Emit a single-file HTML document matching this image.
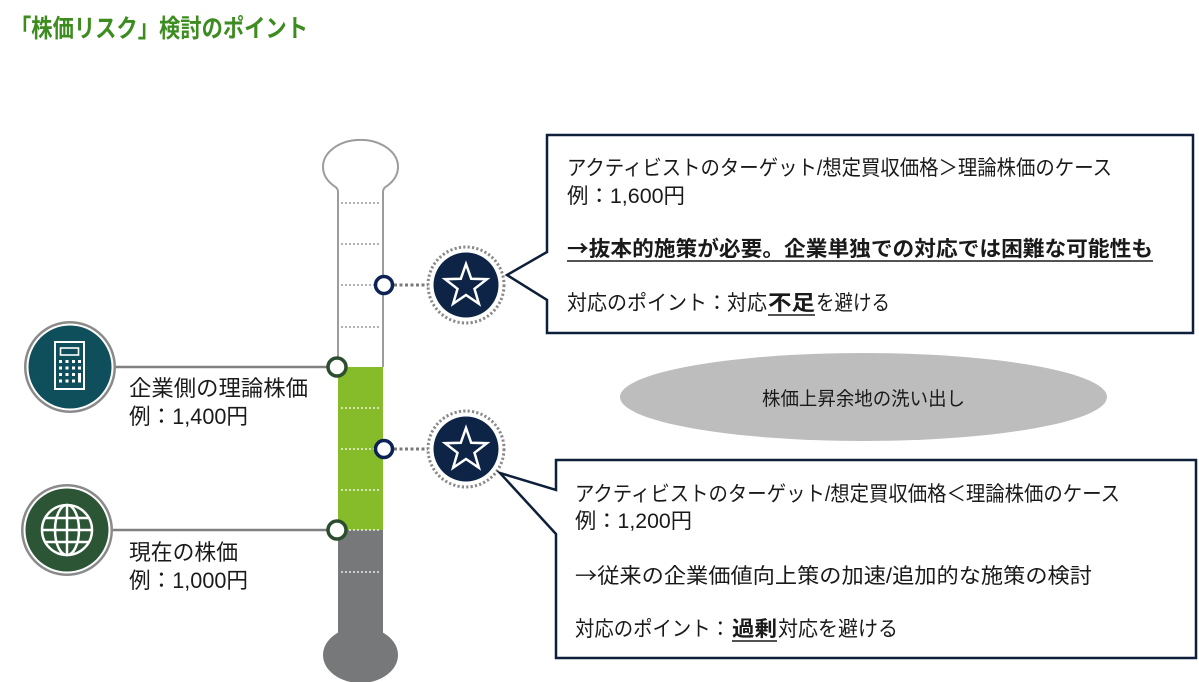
<!DOCTYPE html>
<html><head><meta charset="utf-8">
<style>
html,body{margin:0;padding:0;background:#fff;}
svg{display:block;}
text{font-family:"Liberation Sans","Noto Sans CJK JP",sans-serif;}
.cjk{font-family:"Noto Sans CJK JP",sans-serif;}
</style></head>
<body>
<svg width="1199" height="682" viewBox="0 0 1199 682" xmlns="http://www.w3.org/2000/svg">
<rect width="1199" height="682" fill="#fff"/>
<!-- title -->
<text x="10" y="37" font-size="25" font-weight="bold" fill="#3c8c20" textLength="298" lengthAdjust="spacingAndGlyphs">「株価リスク」検討のポイント</text>

<!-- thermometer -->
<rect x="338" y="367" width="45" height="163" fill="#86bc2a"/>
<rect x="338" y="530" width="45" height="112" fill="#77787a"/>
<ellipse cx="360.5" cy="655" rx="37.5" ry="28" fill="#77787a"/>
<path d="M338,367 V192 Q338,188 334,186 A37.5,27 0 1 1 387,186 Q383,188 383,192 V367" fill="none" stroke="#9c9c9c" stroke-width="2"/>
<g stroke="#9a9a9a" stroke-width="1.5" stroke-dasharray="2 2">
<line x1="341" y1="203" x2="381" y2="203"/>
<line x1="341" y1="244" x2="381" y2="244"/>
<line x1="341" y1="285" x2="381" y2="285"/>
<line x1="341" y1="327" x2="381" y2="327"/>
</g>
<g stroke="#ffffff" stroke-width="1.5" stroke-dasharray="2 2" opacity="0.85">
<line x1="341" y1="408" x2="381" y2="408"/>
<line x1="341" y1="449" x2="381" y2="449"/>
<line x1="341" y1="490" x2="381" y2="490"/>
<line x1="341" y1="530" x2="381" y2="530"/>
<line x1="341" y1="572" x2="381" y2="572"/>
</g>

<!-- left connector lines -->
<line x1="114" y1="367" x2="330" y2="367" stroke="#808080" stroke-width="2.5"/>
<line x1="112" y1="530" x2="330" y2="530" stroke="#808080" stroke-width="2.5"/>
<circle cx="337" cy="367" r="9" fill="#fff" stroke="#2d4d2f" stroke-width="3.5"/>
<circle cx="337" cy="530" r="9" fill="#fff" stroke="#2d4d2f" stroke-width="3.5"/>

<!-- navy small circles + dotted connectors -->
<line x1="394" y1="285" x2="428" y2="285" stroke="#7a7a7a" stroke-width="3" stroke-dasharray="3 2.5"/>
<line x1="394" y1="449" x2="428" y2="449" stroke="#7a7a7a" stroke-width="3" stroke-dasharray="3 2.5"/>
<circle cx="384" cy="285" r="8.5" fill="#fff" stroke="#0d2356" stroke-width="3.5"/>
<circle cx="384" cy="449" r="8.5" fill="#fff" stroke="#0d2356" stroke-width="3.5"/>

<!-- star circles -->
<g>
<circle cx="466" cy="285" r="38" fill="none" stroke="#8a8a8a" stroke-width="3" stroke-dasharray="2.2 2.2"/>
<circle cx="466" cy="285" r="32.5" fill="#0e2447"/>
<polygon points="466,264 471.2,278.8 486.9,279.2 474.5,288.8 478.9,303.8 466,295 453.1,303.8 457.5,288.8 445.1,279.2 460.8,278.8" fill="none" stroke="#fff" stroke-width="2.5" stroke-linejoin="miter"/>
</g>
<g>
<circle cx="466" cy="449" r="38" fill="none" stroke="#8a8a8a" stroke-width="3" stroke-dasharray="2.2 2.2"/>
<circle cx="466" cy="449" r="32.5" fill="#0e2447"/>
<polygon points="466,428 471.2,442.8 486.9,443.2 474.5,452.8 478.9,467.8 466,459 453.1,467.8 457.5,452.8 445.1,443.2 460.8,442.8" fill="none" stroke="#fff" stroke-width="2.5" stroke-linejoin="miter"/>
</g>

<!-- callout boxes -->
<path d="M547,135 H1193 V333 H547 V300 L507,275 L547,252 Z" fill="#fff" stroke="#0e1f3a" stroke-width="2.5" stroke-linejoin="miter"/>
<path d="M556,460 H1196 V658 H556 V534 L500,473 L556,490 Z" fill="#fff" stroke="#0e1f3a" stroke-width="2.5" stroke-linejoin="miter"/>

<!-- top box text -->
<g fill="#1a1a1a" font-size="21">
<text x="567" y="175" textLength="545" lengthAdjust="spacingAndGlyphs">アクティビストのターゲット/想定買収価格＞理論株価のケース</text>
<text x="567" y="203" textLength="118" lengthAdjust="spacingAndGlyphs">例：1,600円</text>
<text x="567" y="256" font-weight="bold" textLength="586" lengthAdjust="spacingAndGlyphs"><tspan class="cjk">→</tspan>抜本的施策が必要。企業単独での対応では困難な可能性も</text>
<text x="567" y="310" textLength="200" lengthAdjust="spacingAndGlyphs">対応のポイント：対応</text>
<text x="768" y="310" font-weight="bold" textLength="47" lengthAdjust="spacingAndGlyphs">不足</text>
<text x="816" y="310" textLength="74" lengthAdjust="spacingAndGlyphs">を避ける</text>
</g>
<line x1="567" y1="261" x2="1153" y2="261" stroke="#1a1a1a" stroke-width="1.6"/>
<line x1="768" y1="315" x2="815" y2="315" stroke="#1a1a1a" stroke-width="1.6"/>

<!-- bottom box text -->
<g fill="#1a1a1a" font-size="21">
<text x="575" y="501" textLength="545" lengthAdjust="spacingAndGlyphs">アクティビストのターゲット/想定買収価格＜理論株価のケース</text>
<text x="575" y="528" textLength="117" lengthAdjust="spacingAndGlyphs">例：1,200円</text>
<text x="575" y="583" textLength="517" lengthAdjust="spacingAndGlyphs"><tspan class="cjk">→</tspan>従来の企業価値向上策の加速/追加的な施策の検討</text>
<text x="575" y="636" textLength="155" lengthAdjust="spacingAndGlyphs">対応のポイント：</text>
<text x="732" y="636" font-weight="bold" textLength="45" lengthAdjust="spacingAndGlyphs">過剰</text>
<text x="778" y="636" textLength="120" lengthAdjust="spacingAndGlyphs">対応を避ける</text>
</g>
<line x1="732" y1="641" x2="777" y2="641" stroke="#1a1a1a" stroke-width="1.6"/>

<!-- ellipse -->
<ellipse cx="863.5" cy="397" rx="243.5" ry="44" fill="#bdbdbd"/>
<text x="762" y="405" font-size="19" fill="#1a1a1a" textLength="203" lengthAdjust="spacingAndGlyphs">株価上昇余地の洗い出し</text>

<!-- calculator icon -->
<circle cx="70" cy="367" r="46" fill="#8a8a8a"/>
<circle cx="70" cy="367" r="43.5" fill="#fff"/>
<circle cx="70" cy="367" r="41.5" fill="#0f4f5b"/>
<rect x="55" y="342" width="29" height="47" fill="none" stroke="#fff" stroke-width="2"/>
<rect x="60.5" y="348" width="18" height="7" fill="none" stroke="#fff" stroke-width="1.6"/>
<g fill="#fff">
<rect x="59" y="360" width="3" height="3"/><rect x="65.5" y="360" width="3" height="3"/><rect x="72" y="360" width="3" height="3"/><rect x="78" y="360" width="3" height="3"/>
<rect x="59" y="366.5" width="3" height="3"/><rect x="65.5" y="366.5" width="3" height="3"/><rect x="72" y="366.5" width="3" height="3"/><rect x="78" y="366.5" width="3" height="3"/>
<rect x="59" y="373" width="3" height="3"/><rect x="65.5" y="373" width="3" height="3"/><rect x="72" y="373" width="3" height="3"/>
<rect x="59" y="379.5" width="3" height="3"/><rect x="65.5" y="379.5" width="3" height="3"/><rect x="72" y="379.5" width="3" height="3"/>
<rect x="78" y="373" width="3" height="9.5"/>
</g>

<!-- globe icon -->
<circle cx="67" cy="530" r="46" fill="#8a8a8a"/>
<circle cx="67" cy="530" r="43.5" fill="#fff"/>
<circle cx="67" cy="530" r="41.5" fill="#2c5535"/>
<g fill="none" stroke="#fff" stroke-width="2.5">
<circle cx="67" cy="530" r="25"/>
<ellipse cx="67" cy="530" rx="12" ry="25"/>
<line x1="67" y1="505" x2="67" y2="555"/>
<line x1="42" y1="530" x2="92" y2="530"/>
<line x1="45" y1="518" x2="89" y2="518"/>
<line x1="45" y1="542" x2="89" y2="542"/>
</g>

<!-- left labels -->
<g fill="#1a1a1a" font-size="22">
<text x="129" y="396" textLength="179" lengthAdjust="spacingAndGlyphs">企業側の理論株価</text>
<text x="129" y="424" textLength="119" lengthAdjust="spacingAndGlyphs">例：1,400円</text>
<text x="129" y="560" textLength="109" lengthAdjust="spacingAndGlyphs">現在の株価</text>
<text x="129" y="588" textLength="119" lengthAdjust="spacingAndGlyphs">例：1,000円</text>
</g>
</svg>
</body></html>
